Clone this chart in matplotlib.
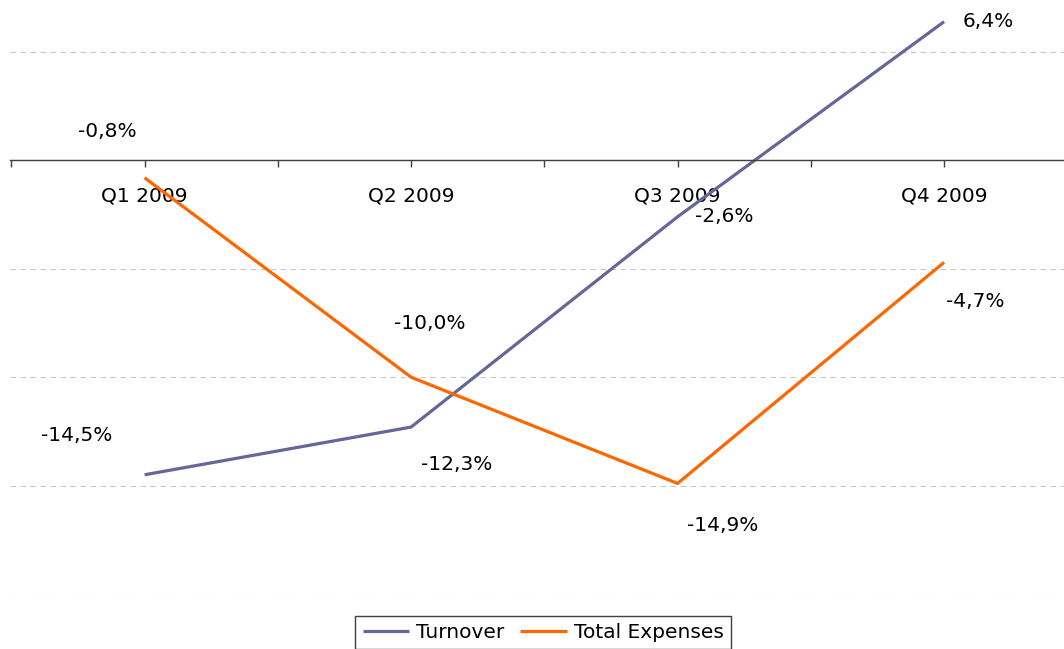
import matplotlib.pyplot as plt

# Data
quarters = ["Q1 2009", "Q2 2009", "Q3 2009", "Q4 2009"]
turnover = [-14.5, -12.3, -2.6, 6.4]
expenses = [-0.8, -10.0, -14.9, -4.7]

# Label offsets in pixels (dx, dy; dy positive = up)
turnover_offsets = [(-68, 39), (46, -37), (47, 0), (44, 0)]
expenses_offsets = [(-37, 46), (19, 54), (45, -42), (31, -39)]

TURN_COLOR = "#666699"
EXP_COLOR = "#FF6600"
FONT_SIZE = 14.5

plt.rcParams["font.family"] = ["DejaVu Sans"]

W, H = 1064, 649
fig = plt.figure(figsize=(W / 100, H / 100), dpi=100)
ax = fig.add_axes([10 / W, (H - 594) / H, 1054 / W, 594 / H])

x = list(range(len(quarters)))
ax.plot(x, turnover, color=TURN_COLOR, linewidth=2.3, label="Turnover",
        solid_capstyle="butt")
ax.plot(x, expenses, color=EXP_COLOR, linewidth=2.3, label="Total Expenses",
        solid_capstyle="butt")

# Dashed gridlines
ax.set_yticks([-20, -15, -10, -5, 0, 5])
ax.yaxis.grid(True, color="#c8c8c8", linestyle=(0, (5, 4)), linewidth=0.8)
ax.tick_params(axis="y", left=False, labelleft=False)

# Category axis at zero
for side in ["left", "right", "top"]:
    ax.spines[side].set_visible(False)
ax.spines["bottom"].set_position(("data", 0))
ax.spines["bottom"].set_color("#404040")
ax.spines["bottom"].set_linewidth(1.0)
ax.set_xticks(x)
ax.set_xticklabels(quarters, fontsize=FONT_SIZE)
ax.set_xticks([i - 0.5 for i in range(len(quarters) + 1)], minor=True)
ax.tick_params(axis="x", which="both", direction="out", length=5,
               width=1.0, color="#404040", pad=14)
ax.set_axisbelow(True)

# limits after ticks so the minor ticks don't widen them
ax.set_xlim(-0.505, 3.45)
ax.set_ylim(-20, 7.4)


def fmt(v):
    return f"{v:.1f}%".replace(".", ",")


for vals, offs in [(turnover, turnover_offsets), (expenses, expenses_offsets)]:
    for xi, v, (dx, dy) in zip(x, vals, offs):
        ax.annotate(fmt(v), xy=(xi, v), xytext=(dx * 0.72, dy * 0.72),
                    textcoords="offset points", ha="center", va="center",
                    fontsize=FONT_SIZE, color="black")

fig.legend(loc="upper center", bbox_to_anchor=(543 / W, 1 - 616 / H),
           ncol=2, fontsize=FONT_SIZE, frameon=True, fancybox=False,
           edgecolor="#404040", framealpha=1, borderpad=0.35,
           handlelength=2.3, handletextpad=0.35, columnspacing=0.8,
           borderaxespad=0)

fig.savefig("out.png", dpi=100)
